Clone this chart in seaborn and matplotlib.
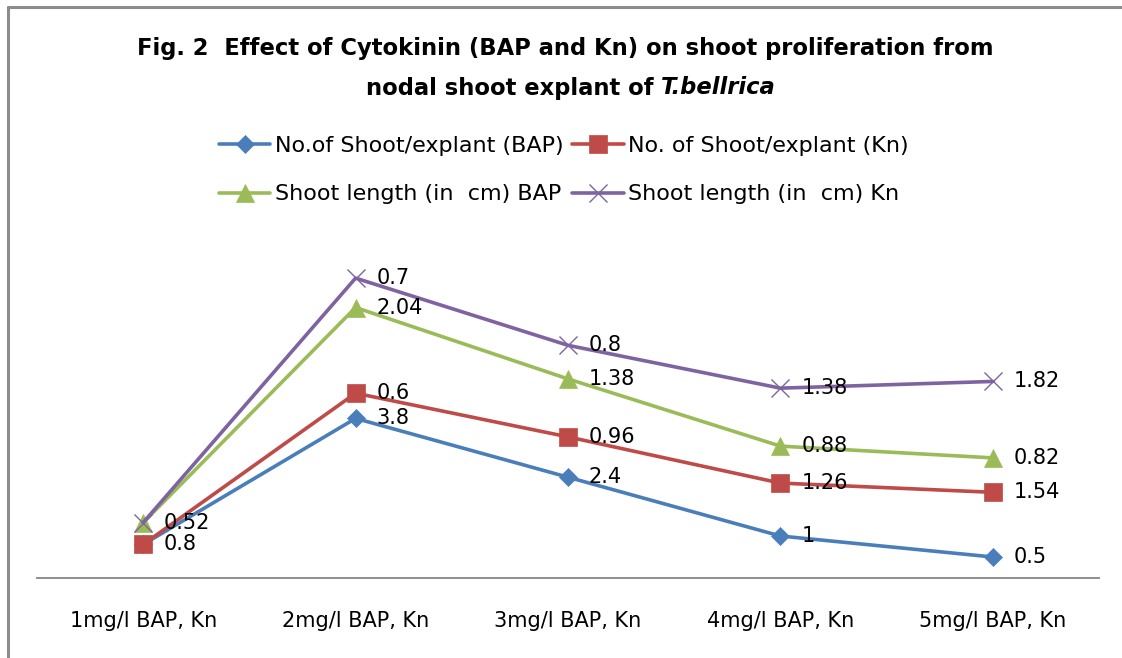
import numpy as np
import pandas as pd
import matplotlib
matplotlib.use("Agg")
import matplotlib.pyplot as plt
import seaborn as sns
from matplotlib.lines import Line2D

categories = ["1mg/l BAP, Kn", "2mg/l BAP, Kn", "3mg/l BAP, Kn", "4mg/l BAP, Kn", "5mg/l BAP, Kn"]
shoots_bap = [0.8, 3.8, 2.4, 1, 0.5]
shoots_kn = [0, 0.6, 0.96, 1.26, 1.54]
length_bap = [0.52, 2.04, 1.38, 0.88, 0.82]
length_kn = [0, 0.7, 0.8, 1.38, 1.82]

series_names = ["No.of Shoot/explant (BAP)", "No. of Shoot/explant (Kn)",
                "Shoot length (in  cm) BAP", "Shoot length (in  cm) Kn"]
series_values = [shoots_bap, shoots_kn, length_bap, length_kn]
colors = ["#4A7EBB", "#BE4B48", "#9BBB59", "#7F63A1"]
markers = ["D", "s", "^", "x"]
msizes = [9, 13, 13, 13]

sns.set_style("white")
plt.rcParams['font.family'] = ['DejaVu Sans']
plt.rcParams['text.color'] = 'black'
plt.rcParams['xtick.color'] = 'black'

fig = plt.figure(figsize=(11.22, 6.58), dpi=100)
ax = fig.add_axes([37 / 1122, 1 - 578 / 658, (1099 - 37) / 1122, (578 - 242) / 658])

# stacked line chart (Excel style): plot cumulative sums, label with raw values
xs = np.arange(len(categories))
cum = np.zeros(len(categories))
for name, vals, c, m, ms in zip(series_names, series_values, colors, markers, msizes):
    vals = np.array(vals, dtype=float)
    cum = cum + vals
    df = pd.DataFrame({"x": xs, "y": cum})
    sns.lineplot(data=df, x="x", y="y", ax=ax, color=c, linewidth=2.6,
                 marker=m, markersize=ms, markeredgecolor=c,
                 markeredgewidth=1.0 if m == "x" else 0.5, label=name)
    for xi, yi, v in zip(xs, cum, vals):
        if v == 0:
            continue
        ax.annotate(f"{v:g}", (xi, yi), xytext=(15, 0), textcoords="offset points",
                    ha="left", va="center", fontsize=15, color="black")

ax.set_xlim(-0.5, len(categories) - 0.5)
ax.set_ylim(0, 8)
ax.set_xticks(xs)
ax.set_xticklabels(categories, fontsize=15)
ax.set_yticks([])
ax.set_xlabel("")
ax.set_ylabel("")
ax.tick_params(axis="x", length=0, pad=24)
for s in ["top", "right", "left"]:
    ax.spines[s].set_visible(False)
ax.spines["bottom"].set_color("#868686")
ax.spines["bottom"].set_linewidth(1.3)

handles, labels = ax.get_legend_handles_labels()
ax.legend_.remove()
order = [0, 2, 1, 3]  # row-major order like the original
fig.legend([handles[i] for i in order], [labels[i] for i in order], loc="center",
           bbox_to_anchor=(564 / 1122, 1 - 170 / 658),
           ncol=2, frameon=False, fontsize=16, labelspacing=1.3, columnspacing=0.4,
           handlelength=2.3, handletextpad=0.2)

# title, second line has an italic species name
fig.text(565 / 1122, 1 - 48 / 658,
         "Fig. 2  Effect of Cytokinin (BAP and Kn) on shoot proliferation from",
         ha="center", va="center", fontsize=16.3, fontweight="bold")
renderer = fig.canvas.get_renderer()
t1 = fig.text(0, 1 - 88 / 658, "nodal shoot explant of ", ha="left", va="center",
              fontsize=16.3, fontweight="bold")
t2 = fig.text(0, 1 - 88 / 658, "T.bellrica", ha="left", va="center",
              fontsize=16.3, fontweight="bold", style="italic")
w1 = t1.get_window_extent(renderer).width / 1122
w2 = t2.get_window_extent(renderer).width / 1122
x0 = 571 / 1122 - (w1 + w2) / 2
t1.set_x(x0)
t2.set_x(x0 + w1)

# chart area border (left and top edges visible)
fig.add_artist(Line2D([8 / 1122, 8 / 1122], [0, 1 - 7 / 658], color="#8c8c8c", lw=2.2,
                      transform=fig.transFigure))
fig.add_artist(Line2D([8 / 1122, 1], [1 - 7 / 658, 1 - 7 / 658], color="#8c8c8c", lw=2.2,
                      transform=fig.transFigure))

fig.savefig("out.png", dpi=100)
